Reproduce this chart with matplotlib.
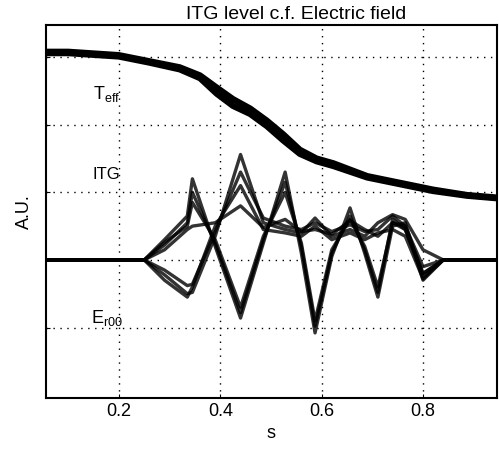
import matplotlib.pyplot as plt

plt.rcParams['font.family'] = ['Liberation Sans', 'DejaVu Sans']

# Teff profile (two overlapping traces -> thick band)
s_teff = [0.05, 0.10, 0.20, 0.26, 0.32, 0.36, 0.393, 0.425, 0.459, 0.492, 0.524,
          0.557, 0.59, 0.623, 0.69, 0.755, 0.82, 0.887, 0.95]
teff_a = [3.08, 3.08, 3.03, 2.94, 2.85, 2.73, 2.55, 2.38, 2.24, 2.06, 1.86,
          1.63, 1.50, 1.43, 1.24, 1.14, 1.04, 0.96, 0.92]
teff_b = [3.06, 3.06, 3.01, 2.92, 2.82, 2.69, 2.46, 2.28, 2.16, 1.98, 1.77,
          1.57, 1.46, 1.39, 1.22, 1.12, 1.02, 0.95, 0.91]

# ITG and Er00 traces (several overlapping time slices)
s_fl = [0.05, 0.25, 0.29, 0.335, 0.345, 0.39, 0.44, 0.485, 0.528, 0.56, 0.587,
        0.62, 0.656, 0.685, 0.711, 0.74, 0.765, 0.80, 0.84, 0.95]
er_a = [0, 0, 0.30, 0.65, 1.20, 0.20, -0.86, 0.25, 1.30, 0.10, -1.08,
        0.05, 0.77, 0.10, -0.55, 0.50, 0.55, -0.30, 0, 0]
er_b = [0, 0, 0.22, 0.55, 1.00, 0.25, -0.78, 0.30, 1.15, 0.20, -0.98,
        0.10, 0.65, 0.15, -0.48, 0.60, 0.45, -0.25, 0, 0]
er_c = [0, 0, 0.26, 0.50, 0.85, 0.30, -0.70, 0.35, 1.00, 0.25, -0.90,
        0.15, 0.60, 0.20, -0.40, 0.55, 0.50, -0.20, 0, 0]
itg_a = [0, 0, -0.22, -0.50, -0.48, 0.35, 1.56, 0.55, 0.45, 0.40, 0.62,
         0.35, 0.45, 0.35, 0.55, 0.67, 0.60, 0.15, 0, 0]
itg_b = [0, 0, -0.15, -0.38, -0.36, 0.42, 1.30, 0.62, 0.50, 0.45, 0.55,
         0.42, 0.52, 0.42, 0.45, 0.65, 0.50, -0.10, 0, 0]
itg_c = [0, 0, 0.15, 0.45, 0.50, 0.55, 0.80, 0.48, 0.60, 0.42, 0.45,
         0.38, 0.58, 0.45, 0.35, 0.55, 0.45, -0.20, 0, 0]
itg_d = [0, 0, -0.30, -0.55, -0.40, 0.50, 1.10, 0.45, 0.40, 0.35, 0.50,
         0.30, 0.40, 0.30, 0.40, 0.45, 0.35, -0.28, 0, 0]

xticks = [0.2, 0.4, 0.6, 0.8]
yticks = [-1, 0, 1, 2, 3]

fig = plt.figure(figsize=(4.99, 4.5), dpi=100)
ax = fig.add_axes([0.092, 0.116, 0.904, 0.829])

ax.plot(s_teff, teff_a, color='black', lw=4.5, solid_capstyle='butt')
ax.plot(s_teff, teff_b, color='black', lw=4.5, solid_capstyle='butt')

for y in (er_a, er_b, er_c, itg_a, itg_b, itg_c, itg_d):
    ax.plot(s_fl, y, color='black', lw=2.4, alpha=0.8)

ax.text(0.149, 2.46, r'T$_{\mathregular{eff}}$', fontsize=13, va='center')
ax.text(0.147, 1.26, 'ITG', fontsize=12, va='center')
ax.text(0.145, -0.86, r'E$_{\mathregular{r00}}$', fontsize=13, va='center')

ax.set_xlim(0.056, 0.946)
ax.set_ylim(-2.04, 3.48)
ax.set_xticks(xticks)
ax.set_yticks(yticks)
ax.set_yticklabels([])
ax.tick_params(direction='in', length=3, labelsize=13)
ax.grid(True, color='black', linestyle=(0, (1, 4)), lw=1.0)
for sp in ax.spines.values():
    sp.set_linewidth(1.5)

ax.set_xlabel('s', fontsize=13)
ax.set_ylabel('A.U.', fontsize=13, labelpad=6)
ax.set_title('ITG level c.f. Electric field', fontsize=14, pad=4, x=0.555)

fig.savefig('out.png', dpi=100)
